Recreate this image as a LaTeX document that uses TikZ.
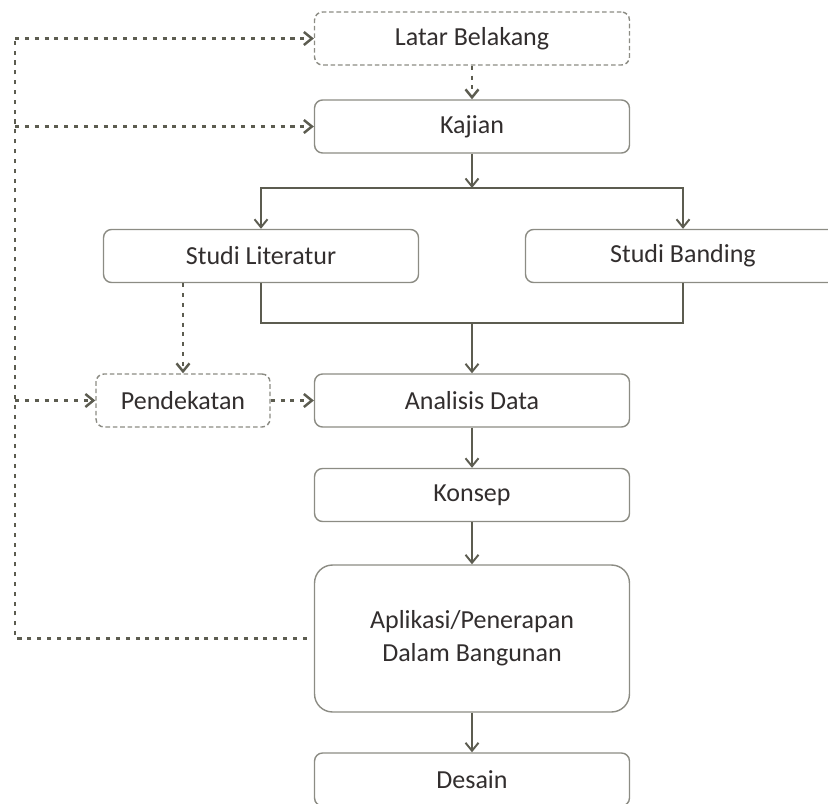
\documentclass[tikz,border=0pt]{standalone}
\usepackage{fontspec}
\setmainfont{Carlito}
\usetikzlibrary{arrows.meta}
\definecolor{linegray}{RGB}{92,92,80}
\definecolor{boxgray}{RGB}{140,140,132}
\definecolor{textgray}{RGB}{50,46,46}

\begin{document}
\begin{tikzpicture}[x=0.02cm,y=-0.02cm,
		stage/.style={draw=boxgray, line width=0.8pt, rounded corners=0.16cm, fill=white, text=textgray, minimum width=6.3cm, minimum height=1.06cm, align=center, font=\fontsize{14.8}{18.8}\selectfont},
		extra/.style={stage, dash pattern=on 2.6pt off 1.6pt},
		flow/.style={draw=linegray, line width=1.1pt, -{Straight Barb[length=0.16cm,width=0.26cm]}},
		hint/.style={flow, line width=1.4pt, dash pattern=on 2.3pt off 3.3pt}]
	\clip (0,0) rectangle (828,804);
	
	\node[extra] (latar) at(472,38.5) {Latar Belakang};
	\foreach \n/\y/\t in {kajian/126.5/Kajian, analisis/400.5/Analisis Data, konsep/495/Konsep, desain/779.5/Desain}{
		\node[stage] (\n) at(472,\y) {\t};
	}
	\node[stage] (studlit) at(261,256) {Studi Literatur};
	\node[stage] (studband) at(683,256) {Studi Banding};
	\node[extra, minimum width=3.48cm] (pendekatan) at(183,400.5) {Pendekatan};
	\node[stage, minimum height=2.94cm, rounded corners=0.36cm] (aplikasi) at(472,638.5) {Aplikasi/Penerapan\\Dalam Bangunan};
	
	\coordinate (rail) at(15,0);
	\draw[hint,-] ([xshift=-0.14cm]aplikasi.west) -- (rail |- aplikasi.west) -- (rail |- latar.west);
	\foreach \n in {latar, kajian, pendekatan}{
		\draw[hint] (rail |- \n.west) -- (\n.west);
	}
	\draw[hint] (latar) -- (kajian);
	\draw[hint] (pendekatan.north |- studlit.south) -- (pendekatan);
	\draw[hint] (pendekatan) -- (analisis);
	
	\coordinate (split) at(472,188);
	\coordinate (merge) at(472,323);
	\draw[flow] (kajian) -- (split);
	\draw[flow] (split) -| (studlit);
	\draw[flow] (split) -| (studband);
	\draw[flow,-] (studlit) |- (merge) -| (studband);
	\draw[flow] (merge) -- (analisis);
	\foreach \a/\b in {analisis/konsep, konsep/aplikasi, aplikasi/desain}{
		\draw[flow] (\a) -- (\b);
	}
\end{tikzpicture}
\end{document}
